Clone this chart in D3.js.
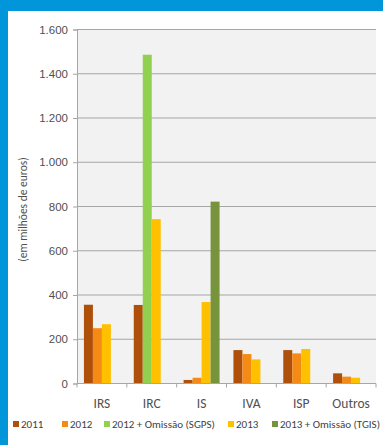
<!DOCTYPE html>
<html>
<head>
<meta charset="utf-8">
<script src="https://cdn.jsdelivr.net/npm/d3@7"></script>
<style>
  body { margin: 0; background: #fff; }
  svg { display: block; font-family: Carlito, Lato, "Liberation Sans", sans-serif; }
</style>
</head>
<body>
<div id="main"></div>
<script>
const ctx = {
    w: 383,
    h: 445
};

// categorias e séries (em milhões de euros); null = sem barra
const categories = ["IRS", "IRC", "IS", "IVA", "ISP", "Outros"];
const seriesNames = ["2011", "2012", "2012 + Omissão (SGPS)", "2013", "2013 + Omissão (TGIS)"];
const v2011 = [356, 355, 16, 151, 151, 46];
const v2012 = [250, null, 26, 133, 136, 31];
const v2012om = [null, 1486, null, null, null, null];
const v2013 = [268, 743, 368, 109, 156, 26];
const v2013om = [null, null, 822, null, null, null];
const yTicks = [0, 200, 400, 600, 800, 1000, 1200, 1400, 1600];
const colors = ["#ae500a", "#f58a15", "#92d050", "#ffc000", "#77933c"];

function createViz() {
    const svg = d3.select("#main").append("svg")
        .attr("width", ctx.w)
        .attr("height", ctx.h);

    // moldura azul
    svg.append("rect").attr("x", 0).attr("y", 0).attr("width", ctx.w).attr("height", ctx.h).attr("fill", "#0096d9");
    svg.append("rect").attr("x", 8).attr("y", 11).attr("width", ctx.w - 8).attr("height", ctx.h - 11).attr("fill", "#ffffff");

    const margin = { left: 77, right: 7, top: 29.5, bottom: 61.5 };
    const x = d3.scaleBand()
        .domain(categories)
        .range([margin.left, ctx.w - margin.right]);
    const y = d3.scaleLinear()
        .domain([0, 1600])
        .range([ctx.h - margin.bottom, margin.top]);

    const pad = x.bandwidth() * 0.139;
    const slot = d3.scaleBand()
        .domain([0, 1, 2, 3])
        .range([pad, x.bandwidth() - pad]);

    // fundo da área de desenho
    svg.append("rect")
        .attr("x", margin.left).attr("y", margin.top)
        .attr("width", ctx.w - margin.right - margin.left)
        .attr("height", y(0) - margin.top)
        .attr("fill", "#f2f2f2");

    // grelha
    svg.append("g")
        .selectAll("line")
        .data(yTicks.slice(1))
        .enter().append("line")
        .attr("x1", margin.left).attr("x2", ctx.w - margin.right)
        .attr("y1", d => y(d)).attr("y2", d => y(d))
        .attr("stroke", "#a6a6a6").attr("stroke-width", 1);

    // barras
    const allSeries = [v2011, v2012, v2012om, v2013, v2013om];
    const bars = [];
    categories.forEach((c, ci) => {
        let k = 0;
        allSeries.forEach((s, si) => {
            if (s[ci] != null) {
                bars.push({ cat: c, series: si, slot: k, value: s[ci] });
                k++;
            }
        });
    });

    svg.append("g")
        .selectAll("rect")
        .data(bars)
        .enter().append("rect")
        .attr("x", d => x(d.cat) + slot(d.slot))
        .attr("y", d => y(d.value))
        .attr("width", slot.bandwidth())
        .attr("height", d => y(0) - y(d.value))
        .attr("fill", d => colors[d.series]);

    // eixo Y
    const yAxis = svg.append("g")
        .attr("transform", `translate(${margin.left},0)`)
        .call(d3.axisLeft(y).tickValues(yTicks).tickSize(4).tickPadding(5)
            .tickFormat(d => d3.format(",")(d).replace(/,/g, ".")));
    yAxis.select(".domain").attr("stroke", "#a6a6a6");
    yAxis.selectAll(".tick line").attr("stroke", "#a6a6a6");
    yAxis.selectAll("text").attr("font-size", 11.5).attr("fill", "#505050").attr("font-family", null);

    // eixo X
    const xAxis = svg.append("g")
        .attr("transform", `translate(0,${y(0)})`);
    xAxis.append("line")
        .attr("x1", margin.left).attr("x2", ctx.w - margin.right)
        .attr("stroke", "#a6a6a6");
    xAxis.selectAll(".sep")
        .data(categories.concat([null]))
        .enter().append("line")
        .attr("x1", (d, i) => margin.left + i * x.bandwidth())
        .attr("x2", (d, i) => margin.left + i * x.bandwidth())
        .attr("y1", 0).attr("y2", 4)
        .attr("stroke", "#a6a6a6");
    xAxis.selectAll("text")
        .data(categories)
        .enter().append("text")
        .attr("x", d => x(d) + x.bandwidth() / 2)
        .attr("y", 24)
        .attr("text-anchor", "middle")
        .attr("font-size", 13.5)
        .attr("fill", "#505050")
        .text(d => d);

    // título do eixo Y
    svg.append("text")
        .attr("transform", `translate(27,${(margin.top + y(0)) / 2 + 3}) rotate(-90)`)
        .attr("text-anchor", "middle")
        .attr("font-size", 11.5)
        .attr("fill", "#505050")
        .text("(em milhões de euros)");

    // legenda
    const legendX = [13, 62, 104, 228, 272];
    const legend = svg.append("g")
        .selectAll("g")
        .data(seriesNames)
        .enter().append("g")
        .attr("transform", (d, i) => `translate(${legendX[i]},428)`);
    legend.append("rect")
        .attr("x", 0).attr("y", -7)
        .attr("width", 6).attr("height", 6)
        .attr("fill", (d, i) => colors[i]);
    legend.append("text")
        .attr("x", 8).attr("y", 0)
        .attr("font-size", 11)
        .attr("fill", "#404040")
        .text(d => d);
}

createViz();
</script>
</body>
</html>
